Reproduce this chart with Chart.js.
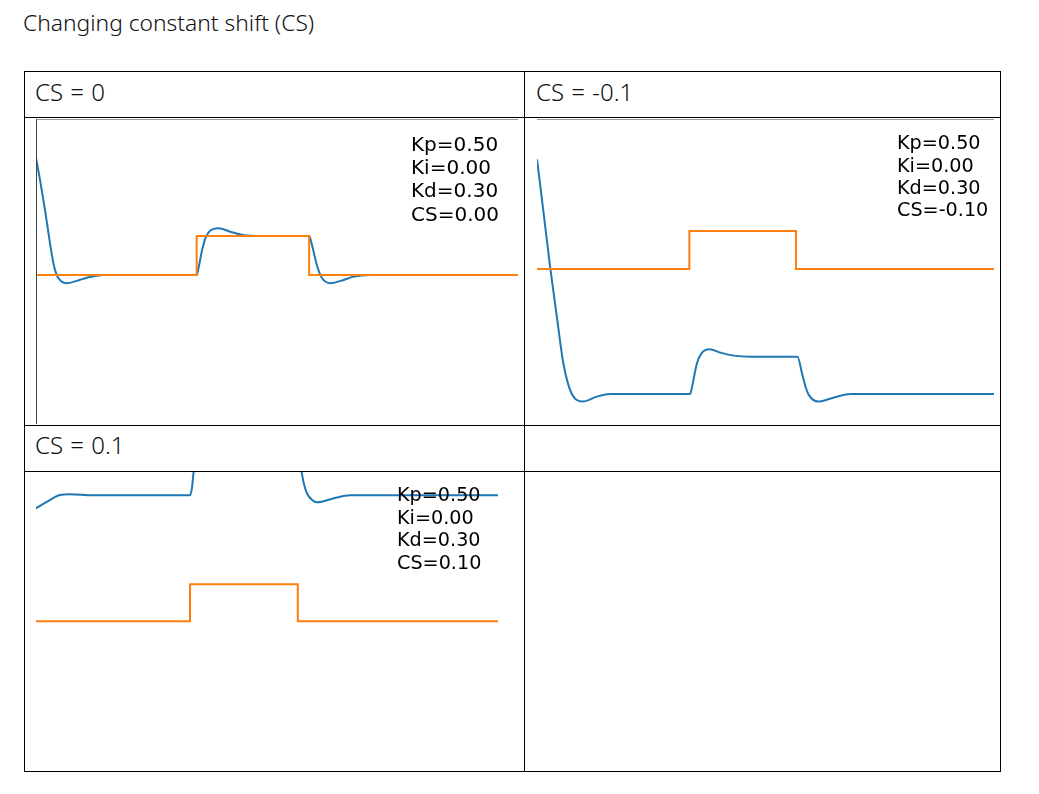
<!DOCTYPE html>
<html>
<head>
<meta charset="utf-8">
<script src="https://cdn.jsdelivr.net/npm/chart.js@4/dist/chart.umd.min.js"></script>
<style>
  body { margin: 0; background: #fff; width: 1039px; height: 794px; position: relative; overflow: hidden; }
  .txt { position: absolute; font-family: "Noto Sans", sans-serif; font-weight: 300; color: #111; line-height: 1; white-space: nowrap; }
  .hdr { font-size: 24px; word-spacing: 1px; }
  .line { position: absolute; background: #000; }
  .plot { position: absolute; }
</style>
</head>
<body>
<div class="txt" style="left:23px; top:12px; font-size:22.8px;">Changing constant shift (CS)</div>

<div class="txt hdr" style="left:35px; top:80px;">CS = 0</div>
<div class="txt hdr" style="left:536px; top:80px;">CS = -0.1</div>
<div class="txt hdr" style="left:35px; top:433px;">CS = 0.1</div>

<div class="plot" style="left:36px; top:119px;"><canvas id="csZero" width="482" height="305"></canvas></div>
<div class="plot" style="left:537px; top:119px;"><canvas id="csNeg" width="457" height="305"></canvas></div>
<div class="plot" style="left:36px; top:472px;"><canvas id="csPos" width="462" height="299"></canvas></div>

<!-- table grid -->
<div class="line" style="left:24px; top:71px; width:977px; height:1px;"></div>
<div class="line" style="left:24px; top:117px; width:977px; height:1px;"></div>
<div class="line" style="left:24px; top:425px; width:977px; height:1px;"></div>
<div class="line" style="left:24px; top:471px; width:977px; height:1px;"></div>
<div class="line" style="left:24px; top:771px; width:977px; height:1px;"></div>
<div class="line" style="left:24px; top:71px; width:1px; height:701px;"></div>
<div class="line" style="left:524px; top:71px; width:1px; height:701px;"></div>
<div class="line" style="left:1000px; top:71px; width:1px; height:701px;"></div>

<script>
// setpoint (orange), same for all three runs
const setpointT = [0, 100, 100, 170, 170, 300];
const setpointY = [0, 0, 1, 1, 0, 0];

// response for CS = 0
const csZeroT = [0, 2.5, 5.6, 8.7, 10.8, 12.9, 16, 19.1, 25.4, 31.6, 42, 100, 101.3, 103.4, 105.4, 108.5, 113.7, 121, 129.3, 139.7, 170, 172, 175.1, 178.2, 183.4, 189.6, 198, 208, 300];
const csZeroY = [3.0, 2.44, 1.67, 0.82, 0.31, 0, -0.17, -0.21, -0.15, -0.07, 0, 0, 0.21, 0.64, 0.94, 1.14, 1.2, 1.11, 1.02, 1.0, 1.0, 0.73, 0.21, -0.09, -0.21, -0.15, -0.04, 0, 0];

// response for CS = -0.1
const csNegT = [0, 4.1, 8.6, 13, 17.3, 21.7, 26.1, 30, 39.3, 48, 100.6, 101.8, 105, 108.3, 113.4, 120.4, 129.2, 140, 171, 174, 176.3, 178.5, 184.7, 195, 206, 300];
const csNegY = [2.89, 1.55, 0.06, -1.25, -2.48, -3.18, -3.45, -3.49, -3.36, -3.29, -3.29, -3.1, -2.48, -2.2, -2.11, -2.2, -2.28, -2.31, -2.31, -2.75, -3.1, -3.32, -3.49, -3.38, -3.29, -3.29];

// response for CS = 0.1
const csPosT = [0, 6.9, 15.6, 22, 37, 100, 101.3, 102.4, 105.4, 108.5, 113.7, 121, 129.3, 139.7, 170, 172.4, 173.9, 176, 179.4, 182.6, 193.5, 204, 300];
const csPosY = [3.05, 3.22, 3.41, 3.43, 3.4, 3.4, 3.61, 4.04, 4.34, 4.54, 4.6, 4.51, 4.42, 4.4, 4.4, 4.04, 3.72, 3.45, 3.27, 3.21, 3.32, 3.4, 3.4];

// gain annotations
const csZeroNote = ['Kp=0.50', 'Ki=0.00', 'Kd=0.30', 'CS=0.00'];
const csNegNote = ['Kp=0.50', 'Ki=0.00', 'Kd=0.30', 'CS=-0.10'];
const csPosNote = ['Kp=0.50', 'Ki=0.00', 'Kd=0.30', 'CS=0.10'];

const toPoints = (xs, ys) => xs.map((x, i) => ({ x: x, y: ys[i] }));

// draws the matplotlib-ish spines and the gain text box
const figureDecor = {
  id: 'figureDecor',
  afterDatasetsDraw(chart, args, opts) {
    const ctx = chart.ctx;
    const a = chart.chartArea;
    ctx.save();
    ctx.lineWidth = 1;
    if (opts.top) {
      ctx.strokeStyle = opts.top;
      ctx.beginPath();
      ctx.moveTo(a.left, a.top + 0.5);
      ctx.lineTo(a.right, a.top + 0.5);
      ctx.stroke();
    }
    if (opts.left) {
      ctx.strokeStyle = opts.left;
      ctx.beginPath();
      ctx.moveTo(a.left + 0.5, a.top);
      ctx.lineTo(a.left + 0.5, a.bottom);
      ctx.stroke();
    }
    if (opts.note) {
      ctx.fillStyle = '#000';
      ctx.font = opts.fontSize + 'px "DejaVu Sans"';
      ctx.textBaseline = 'middle';
      ctx.textAlign = 'left';
      opts.note.forEach((s, i) => {
        ctx.fillText(s, a.left + opts.noteX, a.top + opts.noteY + i * opts.lineStep);
      });
    }
    ctx.restore();
  }
};

function createResponseChart(id, respT, respY, yMin, yMax, decor) {
  const ctx = document.getElementById(id).getContext('2d');
  return new Chart(ctx, {
    type: 'line',
    data: {
      datasets: [{
        // listed first so it is painted on top of the response, as in the original
        label: 'setpoint',
        data: toPoints(setpointT, setpointY),
        borderColor: '#ff7f0e',
        borderWidth: 2,
        pointRadius: 0,
        tension: 0
      }, {
        label: 'output',
        data: toPoints(respT, respY),
        borderColor: '#1f77b4',
        borderWidth: 2,
        pointRadius: 0,
        cubicInterpolationMode: 'monotone'
      }]
    },
    options: {
      responsive: false,
      animation: false,
      devicePixelRatio: 1,
      layout: { padding: 0 },
      scales: {
        x: { type: 'linear', min: 0, max: 300, display: false },
        y: { min: yMin, max: yMax, display: false }
      },
      plugins: {
        legend: { display: false },
        tooltip: { enabled: false },
        figureDecor: decor
      }
    },
    plugins: [figureDecor]
  });
}

createResponseChart('csZero', csZeroT, csZeroY, -3.82, 4.0, {
  top: '#9a9a9a', left: '#444', note: csZeroNote, fontSize: 20, noteX: 375, noteY: 27, lineStep: 23.1
});
createResponseChart('csNeg', csNegT, csNegY, -4.08, 3.95, {
  top: '#9a9a9a', note: csNegNote, fontSize: 19.2, noteX: 360, noteY: 25.5, lineStep: 22.3
});
createResponseChart('csPos', csPosT, csPosY, -4.05, 4.03, {
  note: csPosNote, fontSize: 19.2, noteX: 361, noteY: 24.5, lineStep: 22.5
});
</script>
</body>
</html>
